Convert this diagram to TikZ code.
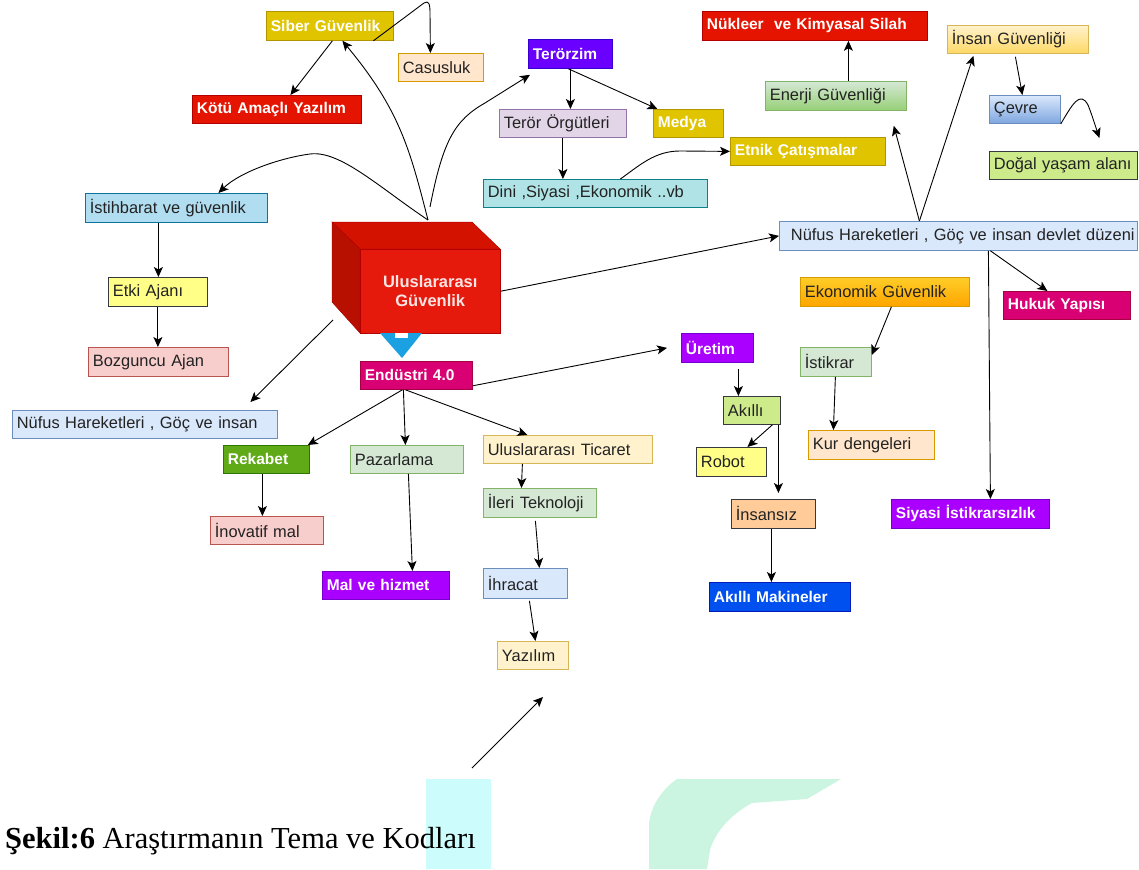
\documentclass[tikz,border=0pt]{standalone}
\usepackage{fontspec}
\setmainfont{Liberation Sans}
\newfontfamily\capfont{Liberation Serif}
\usetikzlibrary{arrows.meta,calc}
\definecolor{cOlv}{HTML}{E0C400}\definecolor{cOlvD}{HTML}{B09500}
\definecolor{cRed}{HTML}{E51400}\definecolor{cRedD}{HTML}{B20000}
\definecolor{cPurp}{HTML}{6A00FF}\definecolor{cPurpD}{HTML}{3700CC}
\definecolor{cVio}{HTML}{AA00FF}\definecolor{cVioD}{HTML}{7700CC}
\definecolor{cMag}{HTML}{D80073}\definecolor{cMagD}{HTML}{A50040}
\definecolor{cCob}{HTML}{0050EF}\definecolor{cCobD}{HTML}{001DBC}
\definecolor{cGrn}{HTML}{60A917}\definecolor{cGrnD}{HTML}{2D7600}
\definecolor{cLav}{HTML}{E1D5E7}\definecolor{cLavD}{HTML}{9673A6}
\definecolor{cCya}{HTML}{B0E3E6}\definecolor{cCyaD}{HTML}{0E8088}
\definecolor{cSky}{HTML}{B1DDF0}\definecolor{cSkyD}{HTML}{10739E}
\definecolor{cLbl}{HTML}{DAE8FC}\definecolor{cLblD}{HTML}{6C8EBF}
\definecolor{cLgr}{HTML}{D5E8D4}\definecolor{cLgrD}{HTML}{82B366}
\definecolor{cLye}{HTML}{FFF2CC}\definecolor{cLyeD}{HTML}{D6B656}
\definecolor{cPea}{HTML}{FFE6CC}\definecolor{cPeaD}{HTML}{D79B00}
\definecolor{cPnk}{HTML}{F8CECC}\definecolor{cPnkD}{HTML}{B85450}
\definecolor{cYel}{HTML}{FFFF88}\definecolor{cDark}{HTML}{36393D}
\definecolor{cLim}{HTML}{CDEB8B}\definecolor{cOrn}{HTML}{FFCC99}
\definecolor{cGg1}{HTML}{D5E8D4}\definecolor{cGg2}{HTML}{97D077}
\definecolor{cYg1}{HTML}{FFF2CC}\definecolor{cYg2}{HTML}{FFD966}
\definecolor{cBg1}{HTML}{DAE8FC}\definecolor{cBg2}{HTML}{7EA6E0}
\definecolor{cOg1}{HTML}{FFCD28}\definecolor{cOg2}{HTML}{FFA500}
\definecolor{cTxt}{HTML}{222222}
\definecolor{cCubeF}{HTML}{E61A0C}\definecolor{cCubeT}{HTML}{D41200}
\definecolor{cCubeL}{HTML}{B81000}\definecolor{cCubeTx}{HTML}{FBE4E4}
\definecolor{cTri}{HTML}{1BA1E2}
\definecolor{cMint}{HTML}{CCF5E1}\definecolor{cAqua}{HTML}{CCFCFC}
\newcommand\rg{\fontsize{16.4}{19}\selectfont}
\newcommand\bd{\fontsize{15.5}{19}\selectfont\bfseries}
\newcommand\mybox[7][]{%
  \pgfmathsetmacro\bxw{#4-#2-9}%
  \pgfmathsetmacro\bxh{#5-#3}%
  \node[bxs,#1,anchor=north west,text width=\bxw pt,minimum height=\bxh pt] (#6) at (#2,#3) {\mbox{#7}};}
\tikzset{
  bxs/.style={draw, line width=0.8pt, inner xsep=4.5pt, inner ysep=0pt, align=left, font=\rg, text=cTxt},
  ar/.style={-{Stealth[length=10pt,width=9pt,inset=2.5pt]}, line width=0.9pt, black},
  olv/.style={fill=cOlv, draw=cOlvD, text=white, font=\bd},
  redb/.style={fill=cRed, draw=cRedD, text=white, font=\bd},
  purp/.style={fill=cPurp, draw=cPurpD, text=white, font=\bd},
  vio/.style={fill=cVio, draw=cVioD, text=white, font=\bd},
  mag/.style={fill=cMag, draw=cMagD, text=white, font=\bd},
  cob/.style={fill=cCob, draw=cCobD, text=white, font=\bd},
  grn/.style={fill=cGrn, draw=cGrnD, text=white, font=\bd},
  lav/.style={fill=cLav, draw=cLavD},
  cyanb/.style={fill=cCya, draw=cCyaD},
  sky/.style={fill=cSky, draw=cSkyD},
  lblu/.style={fill=cLbl, draw=cLblD},
  lgrn/.style={fill=cLgr, draw=cLgrD},
  lyel/.style={fill=cLye, draw=cLyeD},
  peach/.style={fill=cPea, draw=cPeaD},
  pink/.style={fill=cPnk, draw=cPnkD},
  yelb/.style={fill=cYel, draw=cDark},
  lime/.style={fill=cLim, draw=cDark},
  orng/.style={fill=cOrn, draw=cDark},
  greng/.style={top color=cGg1, bottom color=cGg2, draw=cLgrD},
  yelg/.style={top color=cYg1, bottom color=cYg2, draw=cLyeD},
  blug/.style={top color=cBg1, bottom color=cBg2, draw=cLblD},
  orgg/.style={top color=cOg1, bottom color=cOg2, draw=cPeaD},
}
\begin{document}
\begin{tikzpicture}[x=1pt,y=-1pt]
\fill[white] (0,0) rectangle (1139,869);
\useasboundingbox (0,0) rectangle (1139,869);
% background decorations
\fill[cAqua] (426,779) rectangle (491,869);
\fill[cMint] (649,869) -- (649,827) .. controls (649,808) and (662,789) .. (677,779) -- (841,779) -- (807,799) -- (752,803) .. controls (732,814) and (716,830) .. (710,850) -- (707,869) -- cycle;
\node[anchor=base west, inner sep=0pt, font=\capfont\fontsize{30.5}{34}\selectfont, text=black] (cap) at (5,848) {\textbf{Şekil:6} Araştırmanın Tema ve Kodları};
% cube
\fill[cCubeT, draw=cRedD, line width=0.5pt] (332,222) -- (472,222) -- (500,249) -- (360,249) -- cycle;
\fill[cCubeL, draw=cRedD, line width=0.5pt] (332,222) -- (360,249) -- (360,333) -- (332,302) -- cycle;
\node[fill=cCubeF, draw=cRedD, line width=0.5pt, anchor=north west, minimum width=140pt, minimum height=84pt, inner sep=0pt, align=center, text=cCubeTx, font=\fontsize{16.5}{19}\selectfont\bfseries] (cube) at (360,249) {Uluslararası\\Güvenlik};
\fill[cTri] (380,333) -- (422,333) -- (402,358) -- cycle;
\fill[white] (395,333) rectangle (408,338);
% boxes
\mybox[olv]{266}{11}{393}{40}{siber}{Siber Güvenlik}
\mybox[peach]{398}{53}{483}{81}{casus}{Casusluk}
\mybox[redb]{192}{95}{361}{123}{kotu}{Kötü Amaçlı Yazılım}
\mybox[purp]{528}{39}{612}{68}{teror}{Terörzim}
\mybox[lav]{499}{109}{626}{137}{orgut}{Terör Örgütleri}
\mybox[olv]{653}{109}{723}{137}{medya}{Medya}
\mybox[cyanb]{483}{179}{707}{207}{dini}{Dini ,Siyasi ,Ekonomik ..vb}
\mybox[olv]{730}{137}{885}{165}{etnik}{Etnik Çatışmalar}
\mybox[redb]{702}{11}{927}{40}{nukleer}{Nükleer\ \ ve Kimyasal Silah}
\mybox[greng]{765}{81}{906}{110}{enerji}{Enerji Güvenliği}
\mybox[yelg]{947}{25}{1088}{53}{insang}{İnsan Güvenliği}
\mybox[blug]{989}{95}{1060}{123}{cevre}{Çevre}
\mybox[lime]{989}{151}{1137}{179}{dogal}{Doğal yaşam alanı}
\mybox[lblu]{779}{221}{1137}{250}{nufusR}{\hspace*{7pt}Nüfus Hareketleri , Göç ve insan devlet düzeni}
\mybox[orgg]{800}{277}{969}{306}{ekonomik}{Ekonomik Güvenlik}
\mybox[mag]{1003}{291}{1130}{319}{hukuk}{Hukuk Yapısı}
\mybox[lgrn]{800}{347}{871}{376}{istikrar}{İstikrar}
\mybox[peach]{808}{430}{934}{459}{kur}{Kur dengeleri}
\mybox[vio]{891}{499}{1049}{528}{siyasi}{Siyasi İstikrarsızlık}
\mybox[vio]{681}{333}{753}{362}{uretim}{Üretim}
\mybox[lime]{723}{396}{780}{424}{akilli}{Akıllı}
\mybox[yelb]{696}{447}{766}{476}{robot}{Robot}
\mybox[orng]{731}{499}{815}{528}{insansiz}{İnsansız}
\mybox[cob]{709}{582}{850}{611}{makine}{Akıllı Makineler}
\mybox[grn]{223}{445}{309}{473}{rekabet}{Rekabet}
\mybox[pink]{210}{516}{323}{544}{inovatif}{İnovatif mal}
\mybox[lgrn]{350}{445}{463}{473}{pazar}{Pazarlama}
\mybox[vio]{322}{571}{449}{599}{mal}{Mal ve hizmet}
\mybox[lyel]{483}{435}{652}{463}{ticaret}{Uluslararası Ticaret}
\mybox[lgrn]{483}{488}{596}{517}{ileri}{İleri Teknoloji}
\mybox[lblu]{483}{568}{567}{598}{ihracat}{İhracat}
\mybox[lyel]{497}{641}{568}{669}{yazilim}{Yazılım}
\mybox[sky]{85}{193}{267}{222}{istih}{İstihbarat ve güvenlik}
\mybox[yelb]{108}{277}{207}{306}{etki}{Etki Ajanı}
\mybox[pink]{88}{347}{228}{376}{bozg}{Bozguncu Ajan}
\mybox[lblu]{12}{410}{277}{438}{nufusL}{Nüfus Hareketleri , Göç ve insan}
\mybox[mag]{360}{361}{472}{389}{endustri}{Endüstri 4.0}
% free ends
\coordinate (ctop) at (428,220);
\coordinate (ctop2) at (430,207);
\coordinate (cleft) at (333,320);
\coordinate (strayS) at (472,768);
\coordinate (strayE) at (543,697);
% connectors
\draw[ar] (ctop) .. controls (410,150) and (400,110) .. ([xshift=12.5pt]siber.south);
\draw[ar] (ctop) .. controls (380,188) and (340,150) .. (310,154) .. controls (280,158) and (240,172) .. ([xshift=42pt]istih.north);
\draw[ar] (ctop2) .. controls (443,140) and (455,120) .. (485,103) -- ([xshift=2pt,yshift=-6pt]teror.south west);
\draw[ar] ([xshift=2.5pt]siber.south) -- ([xshift=13.5pt]kotu.north);
\draw[ar] ([xshift=43.5pt]siber.south) -- (424,3) .. controls (429,0) and (430,4) .. (430,14) -- ([xshift=-10.5pt]casus.north);
\draw[ar] (teror.south) -- (teror.south |- orgut.north);
\draw[ar] ([xshift=-2pt]teror.south) -- ([xshift=-31pt]medya.north);
\draw[ar] (orgut.south) -- (orgut.south |- dini.north);
\draw[ar] ([xshift=25pt]dini.north) .. controls (640,165) and (655,151) .. (680,151) -- (etnik.west);
\draw[ar] ([xshift=12.5pt]enerji.north) -- ([xshift=12.5pt]enerji.north |- nukleer.south);
\draw[ar] ([xshift=-2.5pt,yshift=-3pt]insang.south) -- ([xshift=-2.5pt]cevre.north);
\draw[ar] (cevre.south east) .. controls (1072,105) and (1080,90) .. (1088,105) .. controls (1092,115) and (1095,125) .. ([xshift=36pt,yshift=13pt]dogal.north);
\draw[ar] ([xshift=-39pt]nufusR.north) -- ([xshift=-13pt,yshift=-15pt]enerji.south east);
\draw[ar] ([xshift=-39pt]nufusR.north) -- ([xshift=-44.5pt,yshift=-2pt]insang.south);
\draw[ar] (cube.east) -- (nufusR.west);
\draw[ar] ([xshift=32pt]nufusR.south) -- ([xshift=-19.5pt]hukuk.north);
\draw[ar] ([xshift=30pt]nufusR.south) -- ([xshift=20pt]siyasi.north);
\draw[ar] ([xshift=6.5pt]ekonomik.south) -- ([yshift=-8pt]istikrar.north east);
\draw[ar] ([xshift=-0.5pt]istikrar.south) -- ([xshift=-38pt]kur.north);
\draw[ar] ([yshift=4pt]endustri.south east) -- ([xshift=-14pt]uretim.west);
\draw[ar] ([xshift=21pt,yshift=-6pt]uretim.south) -- ([xshift=-13.5pt]akilli.north);
\draw[ar] ([xshift=20.5pt]akilli.south) -- ([xshift=16pt]robot.north);
\draw[ar] ([xshift=26.5pt]akilli.south) -- ([xshift=5pt,yshift=6pt]insansiz.north);
\draw[ar] ([xshift=-2pt]insansiz.south) -- ([xshift=-8.5pt]makine.north);
\draw[ar] ([xshift=-14pt]endustri.south) -- ([xshift=-2pt]rekabet.north east);
\draw[ar] ([xshift=-13pt]endustri.south) -- ([xshift=-1.5pt]pazar.north);
\draw[ar] ([xshift=-11pt]endustri.south) -- ([xshift=-40.5pt]ticaret.north);
\draw[ar] (cleft) -- ([xshift=105.5pt,yshift=8pt]nufusL.north);
\draw[ar] ([xshift=-4pt]rekabet.south) -- ([xshift=-4.5pt]inovatif.north);
\draw[ar] ([xshift=1.5pt]pazar.south) -- ([xshift=26.5pt]mal.north);
\draw[ar] ([xshift=-45.5pt]ticaret.south) -- ([xshift=-18.5pt]ileri.north);
\draw[ar] ([xshift=-4.5pt,yshift=-3pt]ileri.south) -- ([xshift=14pt]ihracat.north);
\draw[ar] ([xshift=4pt,yshift=-2pt]ihracat.south) -- ([xshift=2.5pt]yazilim.north);
\draw[ar] (strayS) -- (strayE);
\draw[ar] ([xshift=-18pt]istih.south) -- ([xshift=0.5pt]etki.north);
\draw[ar] (etki.south) -- (etki.south |- bozg.north);
\end{tikzpicture}
\end{document}
